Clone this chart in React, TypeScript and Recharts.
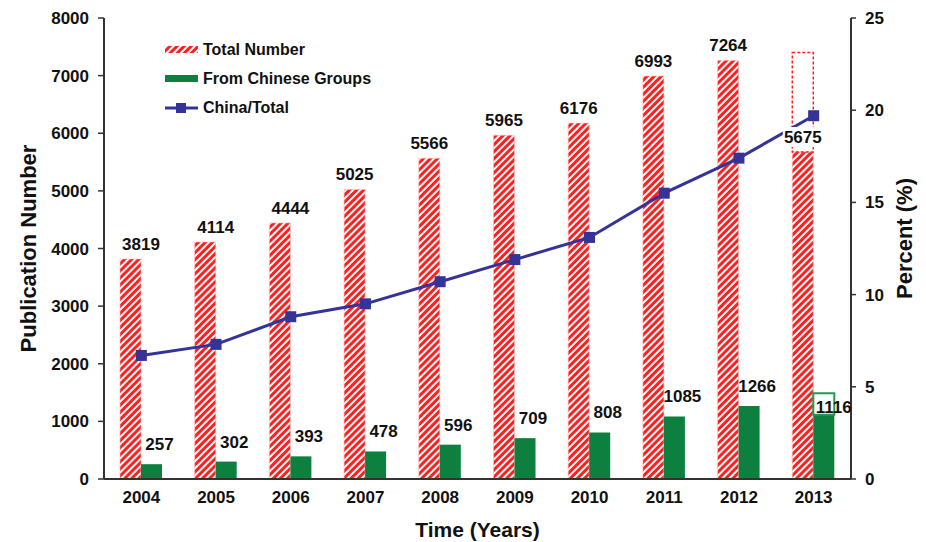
import React from 'react';
import { ComposedChart, Bar, Line, XAxis, YAxis, Legend, LabelList } from 'recharts';

const years = ['2004', '2005', '2006', '2007', '2008', '2009', '2010', '2011', '2012', '2013'];
const totalNumber = [3819, 4114, 4444, 5025, 5566, 5965, 6176, 6993, 7264, 5675];
const chineseGroups = [257, 302, 393, 478, 596, 709, 808, 1085, 1266, 1116];
const chinaPercent = [6.7, 7.3, 8.8, 9.5, 10.7, 11.9, 13.1, 15.5, 17.4, 19.7];
// 2013 projected totals (outlined part of the last bars)
const totalProjected = [null, null, null, null, null, null, null, null, null, 7400];
const chineseProjected = [null, null, null, null, null, null, null, null, null, 1490];

const leftTicks = [0, 1000, 2000, 3000, 4000, 5000, 6000, 7000, 8000];
const rightTicks = [0, 5, 10, 15, 20, 25];

const RED = '#ff1f1f';
const GREEN = '#0d7f3f';
const BLUE = '#333399';
const FONT = '"Liberation Sans", Arial, sans-serif';

const data = years.map((year, i) => ({
  year,
  total: totalNumber[i],
  totalExtra: totalProjected[i] != null ? (totalProjected[i] as number) - totalNumber[i] : 0,
  chinese: chineseGroups[i],
  chineseExtra: chineseProjected[i] != null ? (chineseProjected[i] as number) - chineseGroups[i] : 0,
  percent: chinaPercent[i],
}));

const last = years.length - 1;

const TotalLabel = (props: any) => {
  const { x, y, width, value, index } = props;
  const cx = x + width / 2 + (index < 3 ? width / 2 : 0);
  return (
    <g>
      {index === last && <rect x={cx - 20} y={y - 25} width={40} height={20} fill="#fff" />}
      <text x={cx} y={y - 9} textAnchor="middle" fontFamily={FONT} fontSize={17} fontWeight="bold" fill="#111">
        {value}
      </text>
    </g>
  );
};

const ChineseLabel = (props: any) => {
  const { x, y, width, value, index } = props;
  const cx = x + width / 2 + 8;
  if (index === last) {
    return (
      <text x={cx + 2} y={y - 2} textAnchor="middle" fontFamily={FONT} fontSize={17} fontWeight="bold" fill="#111">
        {value}
      </text>
    );
  }
  return (
    <text x={cx} y={y - 14} textAnchor="middle" fontFamily={FONT} fontSize={17} fontWeight="bold" fill="#111">
      {value}
    </text>
  );
};

const SquareDot = (props: any) => {
  const { cx, cy, index } = props;
  return <rect key={index} x={cx - 5.5} y={cy - 5.5} width={11} height={11} fill={BLUE} />;
};

const legendItems = [
  { name: 'Total Number', kind: 'hatch' },
  { name: 'From Chinese Groups', kind: 'green' },
  { name: 'China/Total', kind: 'line' },
];

const LegendBox = () => (
  <div style={{ fontFamily: FONT, fontWeight: 'bold', fontSize: 16, color: '#111' }}>
    {legendItems.map((item) => (
      <div key={item.name} style={{ display: 'flex', alignItems: 'center', height: 29 }}>
        <svg width={36} height={14} style={{ marginRight: 3 }}>
          <defs>
            <pattern id="legendHatch" patternUnits="userSpaceOnUse" width={5} height={5} patternTransform="rotate(45)">
              <rect width={5} height={5} fill="#fff" />
              <rect x={0} y={0} width={3} height={5} fill={RED} />
            </pattern>
          </defs>
          {item.kind === 'hatch' && <rect x={1} y={3} width={33} height={7} fill="url(#legendHatch)" />}
          {item.kind === 'green' && <rect x={1} y={3} width={33} height={7} fill={GREEN} />}
          {item.kind === 'line' && (
            <g>
              <line x1={1} y1={7} x2={34} y2={7} stroke={BLUE} strokeWidth={3} />
              <rect x={12} y={2} width={10} height={10} fill={BLUE} />
            </g>
          )}
        </svg>
        <span>{item.name}</span>
      </div>
    ))}
  </div>
);

export default function App() {
  return (
    <div style={{ position: 'absolute', left: 0, top: 0, width: 926, height: 542, background: '#fff' }}>
      <ComposedChart
        width={926}
        height={542}
        data={data}
        margin={{ top: 18, right: 0, bottom: 0, left: 0 }}
        barGap={0}
        barSize={21}
      >
        <defs>
          <pattern id="hatch" patternUnits="userSpaceOnUse" width={5} height={5} patternTransform="rotate(45)">
            <rect width={5} height={5} fill="#fff" />
            <rect x={0} y={0} width={3} height={5} fill={RED} />
          </pattern>
        </defs>
        <XAxis
          dataKey="year"
          height={63}
          tickLine={false}
          tickSize={0}
          tickMargin={12}
          axisLine={{ stroke: '#333', strokeWidth: 2 }}
          tick={{ fontFamily: FONT, fontSize: 17, fontWeight: 'bold', fill: '#111' }}
          label={{
            value: 'Time (Years)',
            position: 'insideBottom',
            offset: 5,
            style: { fontFamily: FONT, fontSize: 21, fontWeight: 'bold', fill: '#111' },
          }}
        />
        <YAxis
          yAxisId="left"
          width={104}
          domain={[0, 8000]}
          ticks={leftTicks}
          tickSize={6}
          tickMargin={9}
          axisLine={{ stroke: '#333', strokeWidth: 2 }}
          tickLine={{ stroke: '#333', strokeWidth: 1.5 }}
          tick={{ fontFamily: FONT, fontSize: 17, fontWeight: 'bold', fill: '#111' }}
          label={{
            value: 'Publication Number',
            angle: -90,
            position: 'center',
            dx: -24,
            style: { fontFamily: FONT, fontSize: 22, fontWeight: 'bold', fill: '#111' },
          }}
        />
        <YAxis
          yAxisId="right"
          orientation="right"
          width={75}
          domain={[0, 25]}
          ticks={rightTicks}
          tickSize={5}
          tickMargin={9}
          axisLine={{ stroke: '#333', strokeWidth: 2 }}
          tickLine={{ stroke: '#333', strokeWidth: 1.5 }}
          tick={{ fontFamily: FONT, fontSize: 17, fontWeight: 'bold', fill: '#111' }}
          label={{
            value: 'Percent (%)',
            angle: -90,
            position: 'center',
            dx: 16,
            dy: -10,
            style: { fontFamily: FONT, fontSize: 22, fontWeight: 'bold', fill: '#111' },
          }}
        />
        <Legend
          layout="vertical"
          align="center"
          verticalAlign="middle"
          content={<LegendBox />}
          wrapperStyle={{ left: 164, top: 35, width: 260 }}
        />
        <Bar yAxisId="left" dataKey="total" stackId="t" fill="url(#hatch)" stroke="#ffb4b4" strokeWidth={0.6} isAnimationActive={false}>
          <LabelList dataKey="total" content={<TotalLabel />} />
        </Bar>
        <Bar
          yAxisId="left"
          dataKey="totalExtra"
          stackId="t"
          fill="none"
          stroke={RED}
          strokeWidth={1.5}
          strokeDasharray="3 2"
          isAnimationActive={false}
        />
        <Bar yAxisId="left" dataKey="chinese" stackId="c" fill={GREEN} isAnimationActive={false}>
          <LabelList dataKey="chinese" content={<ChineseLabel />} />
        </Bar>
        <Bar
          yAxisId="left"
          dataKey="chineseExtra"
          stackId="c"
          fill="#fff"
          stroke="#1f9a55"
          strokeWidth={2}
          isAnimationActive={false}
        />
        <Line
          yAxisId="right"
          dataKey="percent"
          stroke={BLUE}
          strokeWidth={3}
          dot={<SquareDot />}
          activeDot={false}
          isAnimationActive={false}
        />
      </ComposedChart>
    </div>
  );
}
